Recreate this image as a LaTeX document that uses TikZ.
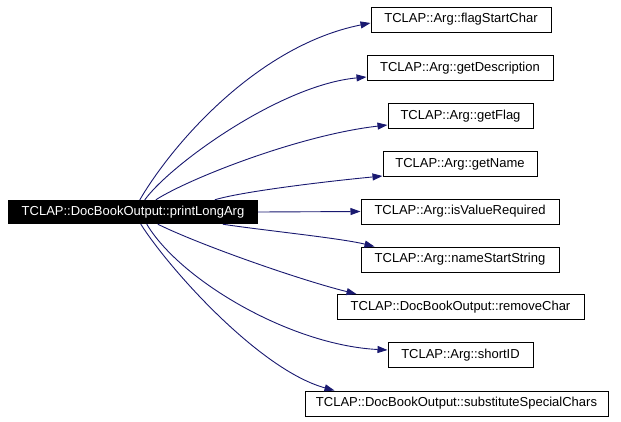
\documentclass[tikz,border=0pt]{standalone}
\usepackage{fontspec}
\setmainfont{Liberation Sans}
\usetikzlibrary{arrows.meta,calc}
\definecolor{edgeblue}{HTML}{191970}
\begin{document}
\begin{tikzpicture}[x=1pt,y=-1pt,
  fn/.style={draw=black,line width=1pt,fill=white,minimum height=25pt,inner sep=0pt,
    font=\fontsize{13}{15}\selectfont,text=black},
  mainnode/.style={fill=black,text=white,minimum height=24pt,minimum width=250pt,inner sep=0pt,
    font=\fontsize{13}{15}\selectfont},
  call/.style={draw=edgeblue,line width=0.9pt,-{Triangle[length=10pt,width=7pt,fill=edgeblue]}}]
\useasboundingbox (0,0) rectangle (621,421);
\node[mainnode] (main) at (133,212) {TCLAP::DocBookOutput::printLongArg};
\node[fn,minimum width=180pt] (n1) at (461,19.5) {TCLAP::Arg::flagStartChar};
\node[fn,minimum width=186pt] (n2) at (460,68) {TCLAP::Arg::getDescription};
\node[fn,minimum width=145pt] (n3) at (460.5,116) {TCLAP::Arg::getFlag};
\node[fn,minimum width=154pt] (n4) at (460,164) {TCLAP::Arg::getName};
\node[fn,minimum width=198pt] (n5) at (460,211.5) {TCLAP::Arg::isValueRequired};
\node[fn,minimum width=198pt] (n6) at (460,259.5) {TCLAP::Arg::nameStartString};
\node[fn,minimum width=247pt] (n7) at (460.5,307) {TCLAP::DocBookOutput::removeChar};
\node[fn,minimum width=145pt] (n8) at (460.5,355) {TCLAP::Arg::shortID};
\node[fn,minimum width=303pt] (n9) at (456.5,403.5) {TCLAP::DocBookOutput::substituteSpecialChars};
\draw[call] ($(main.north west)+(132,0)$) .. controls (175,140) and (260,45) .. ($(n1.west)+(0,3.5)$);
\draw[call] ($(main.north west)+(137,0)$) .. controls (170,165) and (280,85) .. ($(n2.west)+(0,9)$);
\draw[call] ($(main.north west)+(148,0)$) .. controls (190,178) and (300,135) .. ($(n3.west)+(0,9)$);
\draw[call] ($(main.north west)+(207,0)$) .. controls (240,192) and (320,182) .. ($(n4.south west)+(0,-1)$);
\draw[call] (main.east) -- (n5.west);
\draw[call] ($(main.south west)+(215,0)$) .. controls (260,230) and (340,238) .. ($(n6.north west)+(14,0)$);
\draw[call] ($(main.south west)+(150,0)$) .. controls (200,245) and (300,280) .. ($(n7.north west)+(20,0)$);
\draw[call] ($(main.south west)+(139,0)$) .. controls (180,280) and (290,345) .. ($(n8.west)+(0,-5)$);
\draw[call] ($(main.south west)+(133,0)$) .. controls (170,270) and (260,370) .. ($(n9.north west)+(30,0)$);
\end{tikzpicture}
\end{document}
